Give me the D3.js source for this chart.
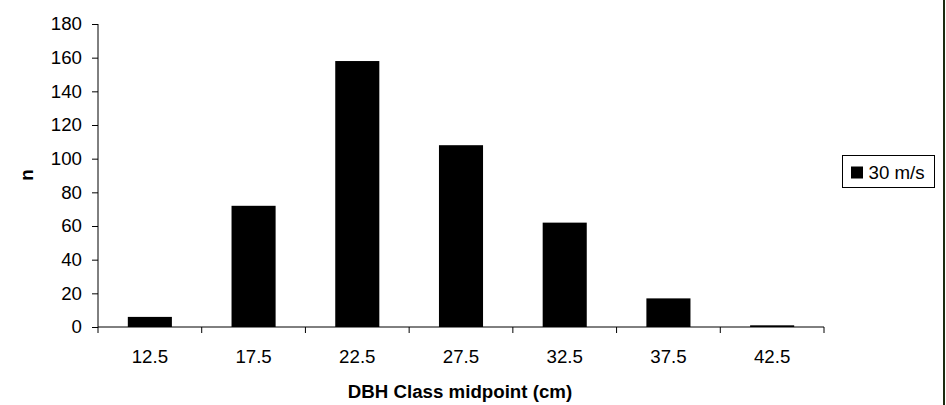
<!DOCTYPE html>
<html><head><meta charset="utf-8">
<script src="https://cdn.jsdelivr.net/npm/d3@7"></script>
<style>html,body{margin:0;padding:0;background:#fff;}svg{display:block;}</style>
</head><body>
<script>
const categories = ["12.5","17.5","22.5","27.5","32.5","37.5","42.5"];
const values = [6, 72, 158, 108, 62, 17, 1];
const yTicks = [0,20,40,60,80,100,120,140,160,180];
const seriesName = "30 m/s";
const xTitle = "DBH Class midpoint (cm)";
const yTitle = "n";

const W = 946, H = 405;
const font = "Liberation Sans, Arial, sans-serif";
const fs = 18.7;
const svg = d3.select("body").append("svg").attr("width", W).attr("height", H);

const x0 = 98, x1 = 824, yTop = 24, yBot = 327;
const x = d3.scaleBand().domain(categories).range([x0, x1]).paddingInner(0.575).paddingOuter(0.2875);
const y = d3.scaleLinear().domain([0,180]).range([yBot, yTop]);

// bars
svg.append("g").selectAll("rect").data(values).join("rect")
  .attr("x", (d,i) => x(categories[i]))
  .attr("width", x.bandwidth())
  .attr("y", d => y(d))
  .attr("height", d => yBot - y(d))
  .attr("fill", "#000");

// y axis
const yAxis = svg.append("g").attr("transform", `translate(${x0},0)`)
  .call(d3.axisLeft(y).tickValues(yTicks).tickSize(6).tickPadding(10).tickFormat(d3.format("d")));
yAxis.selectAll("text").attr("font-family", font).attr("font-size", fs).attr("fill", "#000");
yAxis.selectAll("line,path").attr("stroke", "#000");
yAxis.select(".domain").attr("d", `M0,${yTop}V${yBot}`);

// x axis with ticks at category boundaries
const xb = d3.scaleLinear().domain([0, categories.length]).range([x0, x1]);
const xAxis = svg.append("g").attr("transform", `translate(0,${yBot})`);
xAxis.append("line").attr("x1", x0).attr("x2", x1).attr("y1", 0).attr("y2", 0).attr("stroke", "#000");
xAxis.selectAll("line.t").data(d3.range(categories.length + 1)).join("line").attr("class","t")
  .attr("x1", d => xb(d)).attr("x2", d => xb(d)).attr("y1", 0).attr("y2", 6).attr("stroke", "#000");
xAxis.selectAll("text").data(categories).join("text")
  .attr("x", d => x(d) + x.bandwidth()/2).attr("y", 36)
  .attr("text-anchor", "middle").attr("font-family", font).attr("font-size", fs).attr("fill", "#000")
  .text(d => d);

// titles
svg.append("text").attr("x", (x0+x1)/2 - 1).attr("y", 398).attr("text-anchor","middle")
  .attr("font-family", font).attr("font-size", fs).attr("font-weight","bold").text(xTitle);
svg.append("text").attr("transform", `translate(33,175) rotate(-90)`).attr("text-anchor","middle")
  .attr("font-family", font).attr("font-size", fs).attr("font-weight","bold").text(yTitle);

// legend
const lg = svg.append("g");
lg.append("rect").attr("x", 842.5).attr("y", 155.5).attr("width", 92).attr("height", 32)
  .attr("fill","#fff").attr("stroke","#000").attr("stroke-width",1);
lg.append("rect").attr("x", 851).attr("y", 166.5).attr("width", 12).attr("height", 12).attr("fill","#000");
lg.append("text").attr("x", 868.5).attr("y", 178.5).attr("font-family", font).attr("font-size", fs).text(seriesName);

// right border
svg.append("rect").attr("x", 943).attr("y", 0).attr("width", 2).attr("height", H).attr("fill", "#1d2b10");
</script>
</body></html>
